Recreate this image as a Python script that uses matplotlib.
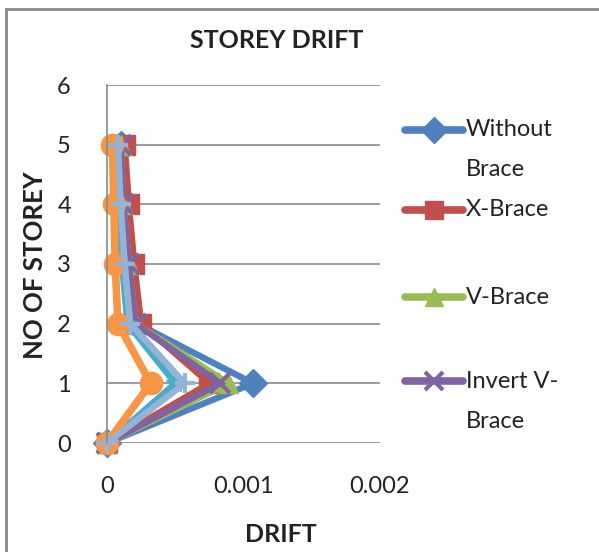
import matplotlib
matplotlib.use("Agg")
import matplotlib.pyplot as plt
from matplotlib.lines import Line2D
from matplotlib.patches import Rectangle

plt.rcParams['font.family'] = ['Lato', 'DejaVu Sans']

storeys = [0, 1, 2, 3, 4, 5]
without_brace = [0, 0.00107, 0.00022, 0.00017, 0.00013, 0.00010]
x_brace = [0, 0.00075, 0.00025, 0.00020, 0.00016, 0.00013]
v_brace = [0, 0.00089, 0.00021, 0.00016, 0.00012, 0.00010]
invert_v_brace = [0, 0.00083, 0.00021, 0.00016, 0.00012, 0.00010]
series5 = [0, 0.00050, 0.00015, 0.00011, 0.00008, 0.00006]
series6 = [0, 0.00032, 0.00008, 0.00006, 0.00005, 0.00004]
series7 = [0, 0.00057, 0.00017, 0.00013, 0.00010, 0.00008]

series = [
    ("Without Brace", without_brace, "#4F81BD", "D"),
    ("X-Brace", x_brace, "#C0504D", "s"),
    ("V-Brace", v_brace, "#9BBB59", "^"),
    ("Invert V-Brace", invert_v_brace, "#8064A2", "x"),
    ("Series5", series5, "#4BACC6", "*"),
    ("Series6", series6, "#F79646", "o"),
    ("Series7", series7, "#95B3D7", "+"),
]
legend_entries = [
    (["Without", "Brace"], "#4F81BD", "D"),
    (["X-Brace"], "#C0504D", "s"),
    (["V-Brace"], "#9BBB59", "^"),
    (["Invert V-", "Brace"], "#8064A2", "x"),
]
x_ticks = [0, 0.001, 0.002]
x_tick_labels = ["0", "0.001", "0.002"]
y_ticks = [0, 1, 2, 3, 4, 5, 6]

W, H = 599, 552
fig = plt.figure(figsize=(W / 100, H / 100), dpi=100)

def fx(px):
    return px / W

def fy(py):
    return 1 - py / H

ax = fig.add_axes([fx(107), fy(443), fx(380) - fx(107), fy(85) - fy(443)])

for name, vals, color, mk in series:
    mew = 3 if mk in ("x", "+") else 1
    ms = 16 if mk == "o" else 14
    lw = 5.5 if mk == "o" else 4.6
    ax.plot(vals, storeys, color=color, lw=lw, marker=mk, ms=ms,
            mew=mew, mec=color, mfc=color, solid_joinstyle='miter', clip_on=False)

ax.set_xlim(0, 0.002)
ax.set_ylim(0, 6)
ax.set_xticks(x_ticks)
ax.set_xticklabels(x_tick_labels)
ax.set_yticks(y_ticks)
ax.tick_params(axis='both', length=0, labelsize=17, colors='#222222')
ax.tick_params(axis='y', pad=26)
ax.tick_params(axis='x', pad=24)
ax.grid(axis='y', color='#8a8a8a', lw=1.2)
ax.set_axisbelow(True)
for s in ['top', 'right', 'bottom']:
    ax.spines[s].set_visible(False)
ax.spines['left'].set_color('#8a8a8a')
ax.spines['left'].set_linewidth(1.2)

fig.text(fx(277), fy(41), "STOREY DRIFT", ha='center', va='center',
         fontsize=18, fontweight='bold', color='#222222')
fig.text(fx(281), fy(534), "DRIFT", ha='center', va='center',
         fontsize=18, fontweight='bold', color='#222222')
fig.text(fx(35), fy(265), "NO OF STOREY", ha='center', va='center',
         rotation=90, fontsize=18.5, fontweight='bold', color='#222222')

legend_y = [130, 210, 297, 381]
for (lines, color, mk), y in zip(legend_entries, legend_y):
    mew = 3 if mk == "x" else 1
    fig.add_artist(Line2D([fx(405), fx(463)], [fy(y), fy(y)], color=color, lw=5.5,
                          transform=fig.transFigure, solid_capstyle='round'))
    fig.add_artist(Line2D([fx(434)], [fy(y)], color=color, marker=mk, ms=13,
                          mew=mew, mec=color, mfc=color, transform=fig.transFigure))
    for i, t in enumerate(lines):
        fig.text(fx(466), fy(y + i * 40), t, ha='left', va='center',
                 fontsize=17, color='#222222')

fig.add_artist(Rectangle((fx(6), fy(H + 20)), fx(W + 20), fy(9) - fy(H + 20),
                         transform=fig.transFigure, fill=False,
                         edgecolor='#888888', lw=2))

fig.savefig("out.png", dpi=100)
